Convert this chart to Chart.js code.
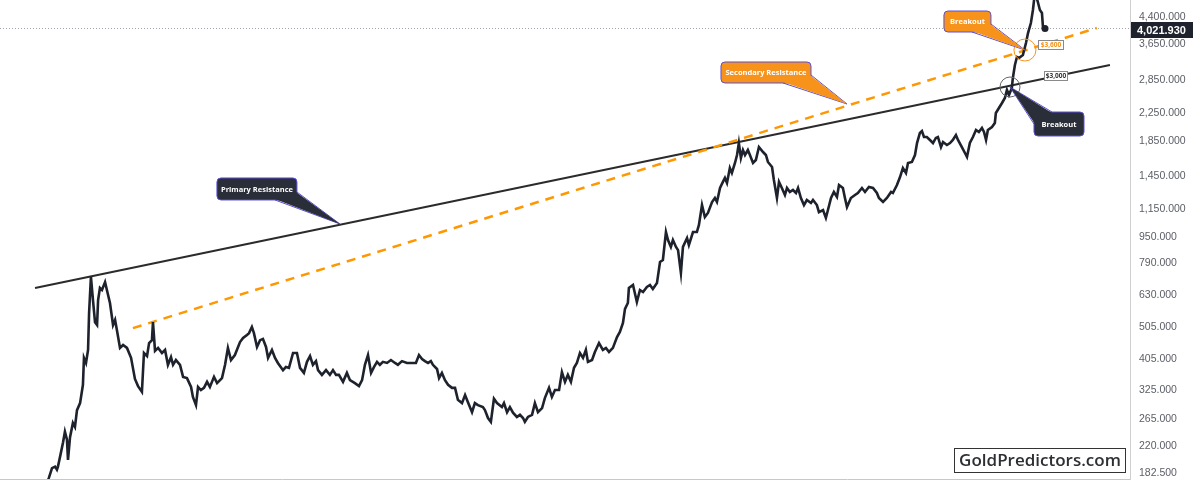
<!DOCTYPE html>
<html lang="en">
<head>
<meta charset="UTF-8">
<title>Gold - Primary and Secondary Resistance</title>
<style>
    body { margin: 0; background: #fff; }
    #wrap { width: 1200px; height: 480px; }
</style>
<script src="https://cdn.jsdelivr.net/npm/chart.js"></script>
</head>
<body>
<div id="wrap"><canvas id="goldChart" width="1200" height="480"></canvas></div>
<script>
// gold close, [decimal year, USD/oz]
const goldCloses = [
    [1977.89,167],[1977.99,174],[1978.14,186],[1978.29,188],[1978.38,184],[1978.43,188],[1978.58,208],[1978.68,223],[1978.77,240],[1978.87,227],
    [1978.92,197],[1979.02,231],[1979.16,255],[1979.26,248],[1979.36,279],[1979.51,293],[1979.65,333],[1979.70,402],[1979.80,388],[1979.90,425],
    [1979.95,550],[1980.04,708],[1980.14,602],[1980.24,516],[1980.34,506],[1980.39,602],[1980.48,655],[1980.58,646],[1980.73,683],[1980.82,646],
    [1980.97,590],[1981.12,506],[1981.22,524],[1981.31,488],[1981.46,431],[1981.61,440],[1981.80,431],[1982.00,402],[1982.19,347],[1982.34,330],
    [1982.53,317],[1982.63,416],[1982.78,407],[1982.88,446],[1983.02,455],[1983.07,516],[1983.17,422],[1983.32,431],[1983.51,416],[1983.66,425],
    [1983.80,383],[1983.95,404],[1984.05,383],[1984.19,396],[1984.39,383],[1984.54,352],[1984.73,349],[1984.93,328],[1985.02,306],[1985.17,289],
    [1985.27,328],[1985.41,321],[1985.56,326],[1985.71,340],[1985.85,328],[1986.05,352],[1986.20,337],[1986.44,349],[1986.59,383],[1986.73,431],
    [1986.88,396],[1987.07,410],[1987.32,449],[1987.47,462],[1987.66,472],[1987.76,478],[1987.90,499],[1988.00,478],[1988.15,434],[1988.30,455],
    [1988.44,459],[1988.59,434],[1988.69,402],[1988.88,425],[1989.03,402],[1989.17,388],[1989.42,369],[1989.56,377],[1989.71,375],[1989.91,416],
    [1990.10,416],[1990.25,375],[1990.44,362],[1990.59,391],[1990.74,407],[1990.88,383],[1991.03,393],[1991.13,369],[1991.32,357],[1991.52,369],
    [1991.71,357],[1991.86,369],[1992.01,357],[1992.15,357],[1992.35,340],[1992.54,362],[1992.69,344],[1992.93,337],[1993.13,330],[1993.28,344],
    [1993.42,383],[1993.57,410],[1993.72,362],[1993.86,377],[1994.01,391],[1994.15,383],[1994.30,391],[1994.50,388],[1994.69,396],[1994.89,388],
    [1995.03,383],[1995.23,393],[1995.47,388],[1995.72,388],[1995.91,388],[1996.06,410],[1996.21,399],[1996.35,393],[1996.50,388],[1996.64,393],
    [1996.74,383],[1996.94,372],[1997.04,349],[1997.18,362],[1997.33,344],[1997.48,333],[1997.67,326],[1997.82,326],[1997.96,300],[1998.16,293],
    [1998.31,310],[1998.45,295],[1998.65,275],[1998.79,293],[1998.94,289],[1999.18,285],[1999.28,279],[1999.43,264],[1999.57,257],[1999.72,302],
    [1999.87,293],[2000.11,285],[2000.21,293],[2000.36,275],[2000.50,285],[2000.65,274],[2000.84,266],[2000.99,270],[2001.14,264],[2001.23,257],
    [2001.38,266],[2001.58,270],[2001.72,293],[2001.87,275],[2002.07,283],[2002.21,304],[2002.41,326],[2002.55,306],[2002.70,321],[2002.90,321],
    [2003.04,364],[2003.19,340],[2003.33,357],[2003.48,340],[2003.63,375],[2003.77,388],[2003.92,416],[2004.07,402],[2004.21,425],[2004.31,391],
    [2004.51,396],[2004.65,419],[2004.85,446],[2005.04,425],[2005.19,431],[2005.34,419],[2005.53,431],[2005.73,465],[2005.87,482],[2006.02,513],
    [2006.12,566],[2006.26,590],[2006.31,655],[2006.51,669],[2006.70,594],[2006.85,646],[2007.00,637],[2007.19,660],[2007.34,669],[2007.48,651],
    [2007.68,678],[2007.83,786],[2007.97,797],[2008.12,969],[2008.22,916],[2008.36,873],[2008.46,916],[2008.61,873],[2008.71,854],[2008.85,728],
    [2008.95,873],[2009.15,929],[2009.24,885],[2009.44,969],[2009.63,969],[2009.73,1018],[2009.88,1170],[2010.02,1076],[2010.17,1107],[2010.37,1195],
    [2010.51,1229],[2010.61,1195],[2010.76,1318],[2010.90,1375],[2011.00,1414],[2011.10,1365],[2011.24,1516],[2011.34,1464],[2011.49,1570],[2011.59,1660],
    [2011.68,1805],[2011.78,1626],[2011.88,1719],[2011.98,1660],[2012.12,1719],[2012.22,1660],[2012.37,1570],[2012.51,1603],[2012.66,1755],[2012.86,1695],
    [2013.00,1660],[2013.10,1581],[2013.30,1527],[2013.39,1394],[2013.54,1229],[2013.64,1375],[2013.78,1318],[2013.93,1255],[2014.03,1318],[2014.17,1282],
    [2014.32,1300],[2014.47,1273],[2014.57,1318],[2014.71,1229],[2014.86,1170],[2015.00,1212],[2015.20,1187],[2015.30,1212],[2015.49,1170],[2015.59,1114],
    [2015.79,1130],[2015.93,1069],[2016.03,1130],[2016.18,1229],[2016.32,1282],[2016.47,1238],[2016.57,1346],[2016.76,1318],[2016.86,1229],[2016.96,1154],
    [2017.15,1229],[2017.35,1255],[2017.49,1273],[2017.69,1318],[2017.84,1282],[2018.03,1327],[2018.23,1318],[2018.42,1273],[2018.52,1229],[2018.72,1195],
    [2018.91,1229],[2019.11,1282],[2019.20,1273],[2019.40,1346],[2019.55,1423],[2019.69,1516],[2019.84,1464],[2019.94,1570],[2020.13,1581],[2020.28,1660],
    [2020.38,1805],[2020.52,1936],[2020.62,1963],[2020.72,1883],[2020.86,1883],[2021.01,1844],[2021.16,1805],[2021.30,1870],[2021.40,1883],[2021.55,1755],
    [2021.65,1818],[2021.84,1780],[2021.99,1805],[2022.13,1844],[2022.28,1909],[2022.38,1844],[2022.57,1755],[2022.72,1683],[2022.82,1637],[2022.96,1805],
    [2023.11,1883],[2023.26,1977],[2023.40,1950],[2023.55,2005],[2023.65,1950],[2023.75,1844],[2023.84,1977],[2024.04,2019],[2024.18,2076],[2024.23,2226],
    [2024.38,2306],[2024.53,2388],[2024.67,2473],[2024.77,2615],[2024.87,2525],[2025.01,2652],[2025.06,2844],[2025.16,3114],[2025.26,3293],[2025.36,3270],
    [2025.55,3339],[2025.70,3632],[2025.80,3894],[2025.94,4176],[2026.04,4574],[2026.14,5190],[2026.28,4837],[2026.38,4574],[2026.48,4479],[2026.53,4060],
    [2026.63,4021.93]
];
const lastClose = 4021.93;

// trend lines (two end points each)
const primaryDates = [1977.31, 2029.80];
const primaryPrices = [655, 3114];
const secondaryDates = [1982.09, 2029.16];
const secondaryPrices = [495, 4033];

const yTicks = [182.5, 220, 265, 325, 405, 505, 630, 790, 950, 1150, 1450, 1850, 2250, 2850, 3650, 4400];

// callouts: text, anchor date, anchor price
const calloutText = ['Primary Resistance', 'Secondary Resistance', 'Breakout', 'Breakout'];
const calloutDates = [1992.20, 2016.96, 2025.65, 2024.92];
const calloutPrices = [1025, 2371, 3458, 2670];
const levelText = ['$3,600', '$3,000'];

const ORANGE = '#f7931a';
const DARK = '#2a2e39';
const EDGE = '#5b4fd6';

const fmt = v => v.toLocaleString('en-US', { minimumFractionDigits: 3, maximumFractionDigits: 3 });

function roundRect(ctx, x, y, w, h, r) {
    ctx.beginPath();
    ctx.moveTo(x + r, y);
    ctx.arcTo(x + w, y, x + w, y + h, r);
    ctx.arcTo(x + w, y + h, x, y + h, r);
    ctx.arcTo(x, y + h, x, y, r);
    ctx.arcTo(x, y, x + w, y, r);
    ctx.closePath();
}

// box offset from anchor, and the two tail base points relative to the box
const calloutLayout = [
    { fill: DARK,   box: [-123, -46, 80, 22], tail: [[58, 22], [80, 14]] },
    { fill: ORANGE, box: [-126, -42, 90, 21], tail: [[62, 21], [90, 13]] },
    { fill: ORANGE, box: [-81, -39, 47, 21],  tail: [[28, 21], [47, 13]] },
    { fill: DARK,   box: [24, 25, 50, 24],    tail: [[0, 12], [18, 0]] }
];

function drawCallout(ctx, px, py, lay, text) {
    const [dx, dy, w, h] = lay.box;
    const bx = px + dx, by = py + dy;
    const [a, b] = lay.tail;
    ctx.fillStyle = lay.fill;
    ctx.strokeStyle = EDGE;
    ctx.lineWidth = 1;
    ctx.beginPath();
    ctx.moveTo(bx + a[0], by + a[1]);
    ctx.lineTo(px, py);
    ctx.lineTo(bx + b[0], by + b[1]);
    ctx.stroke();
    roundRect(ctx, bx, by, w, h, 4);
    ctx.fill();
    ctx.stroke();
    ctx.beginPath();
    ctx.moveTo(bx + a[0] + (a[1] === h ? 0 : 1), by + a[1] - (a[1] === h ? 1 : 0));
    ctx.lineTo(px, py);
    ctx.lineTo(bx + b[0] - (b[0] === w ? 1 : 0), by + b[1] + (b[1] === 0 ? 1 : 0));
    ctx.lineTo(bx + w / 2, by + h / 2);
    ctx.closePath();
    ctx.fill();
    ctx.fillStyle = '#fff';
    ctx.font = 'bold 7.5px "Open Sans", sans-serif';
    ctx.textAlign = 'center';
    ctx.textBaseline = 'middle';
    ctx.fillText(text, bx + w / 2, by + h / 2 + 0.5);
}

const overlay = {
    id: 'overlay',
    beforeDatasetsDraw(chart) {
        const { ctx, chartArea, scales: { y } } = chart;
        const py = Math.round(y.getPixelForValue(lastClose)) + 0.5;
        ctx.save();
        ctx.strokeStyle = '#a0a4ab';
        ctx.lineWidth = 1;
        ctx.setLineDash([1, 2]);
        ctx.beginPath();
        ctx.moveTo(chartArea.left, py);
        ctx.lineTo(chartArea.right, py);
        ctx.stroke();
        ctx.restore();
    },
    afterDraw(chart) {
        const { ctx, chartArea, scales: { x, y } } = chart;
        ctx.save();

        // bottom frame line
        ctx.strokeStyle = '#c8c8c8';
        ctx.lineWidth = 1;
        ctx.beginPath();
        ctx.moveTo(chartArea.left, chartArea.bottom - 0.5);
        ctx.lineTo(chartArea.right, chartArea.bottom - 0.5);
        ctx.stroke();

        const pts = calloutDates.map((d, i) => [x.getPixelForValue(d), y.getPixelForValue(calloutPrices[i])]);

        // breakout circles
        ctx.lineWidth = 1;
        ctx.strokeStyle = ORANGE;
        ctx.beginPath(); ctx.arc(pts[2][0], pts[2][1], 11, 0, Math.PI * 2); ctx.stroke();
        ctx.strokeStyle = '#666';
        ctx.beginPath(); ctx.arc(pts[3][0], pts[3][1], 10, 0, Math.PI * 2); ctx.stroke();

        // level tags
        ctx.font = 'bold 6.5px "Open Sans", sans-serif';
        ctx.textAlign = 'center';
        ctx.textBaseline = 'middle';
        const tags = [[pts[2], 13, -10, 25, ORANGE, levelText[0]], [pts[3], 34, -16, 23, '#333', levelText[1]]];
        tags.forEach(([p, dx, dy, w, col, t]) => {
            const bx = Math.round(p[0] + dx) + 0.5, by = Math.round(p[1] + dy) + 0.5;
            ctx.fillStyle = '#fff';
            ctx.fillRect(bx, by, w, 9);
            ctx.strokeStyle = '#8a8a8a';
            ctx.strokeRect(bx, by, w, 9);
            ctx.fillStyle = col;
            ctx.fillText(t, bx + w / 2, by + 5);
        });

        pts.forEach((p, i) => drawCallout(ctx, p[0], p[1], calloutLayout[i], calloutText[i]));

        // last price tag on the axis
        const py = Math.round(y.getPixelForValue(lastClose)) + 2;
        ctx.fillStyle = '#1e222d';
        ctx.fillRect(chartArea.right + 1, py - 8, 62, 16);
        ctx.fillStyle = '#fff';
        ctx.font = 'bold 11px "Liberation Sans", Arial, sans-serif';
        ctx.textAlign = 'left';
        ctx.fillText(fmt(lastClose), chartArea.right + 7, py + 1);

        // watermark
        ctx.fillStyle = '#fff';
        ctx.fillRect(954.5, 448.5, 171, 24);
        ctx.strokeStyle = '#333';
        ctx.strokeRect(954.5, 448.5, 171, 24);
        ctx.fillStyle = '#2d2f33';
        ctx.font = '600 17px "Open Sans", sans-serif';
        ctx.textAlign = 'center';
        ctx.fillText('GoldPredictors.com', 1040, 461);

        ctx.restore();
    }
};

new Chart(document.getElementById('goldChart'), {
    type: 'line',
    data: {
        datasets: [
            {
                data: goldCloses.map(([d, p]) => ({ x: d, y: p })),
                borderColor: '#1e222d',
                borderWidth: 2.6,
                pointRadius: ctx => ctx.dataIndex === goldCloses.length - 1 ? 3.5 : 0,
                pointBackgroundColor: '#1e222d',
                pointBorderWidth: 0,
                tension: 0,
                order: 1
            },
            {
                data: primaryDates.map((d, i) => ({ x: d, y: primaryPrices[i] })),
                borderColor: '#2b2b2b',
                borderWidth: 2,
                pointRadius: 0,
                order: 3
            },
            {
                data: secondaryDates.map((d, i) => ({ x: d, y: secondaryPrices[i] })),
                borderColor: '#ff9800',
                borderWidth: 2.5,
                borderDash: [9, 7],
                pointRadius: 0,
                order: 2
            }
        ]
    },
    options: {
        responsive: false,
        animation: false,
        layout: { padding: 0, autoPadding: false },
        plugins: { legend: { display: false }, tooltip: { enabled: false } },
        scales: {
            x: {
                type: 'linear',
                display: false,
                min: 1975.6,
                max: 2030.78
            },
            y: {
                type: 'logarithmic',
                position: 'right',
                min: 171.2,
                max: 4905,
                grid: { display: false, drawTicks: false },
                border: { display: true, color: '#cfcfcf' },
                ticks: {
                    autoSkip: false,
                    padding: 9,
                    labelOffset: 2,
                    color: '#5b5e66',
                    font: { size: 10.5, family: '"Liberation Sans", Arial, sans-serif' },
                    callback: v => fmt(v)
                },
                afterBuildTicks: scale => { scale.ticks = yTicks.map(v => ({ value: v })); },
                afterFit: scale => {
                    scale.width = 70;
                    scale.paddingTop = 0;
                    scale.paddingBottom = 0;
                }
            }
        }
    },
    plugins: [overlay]
});
</script>
</body>
</html>
